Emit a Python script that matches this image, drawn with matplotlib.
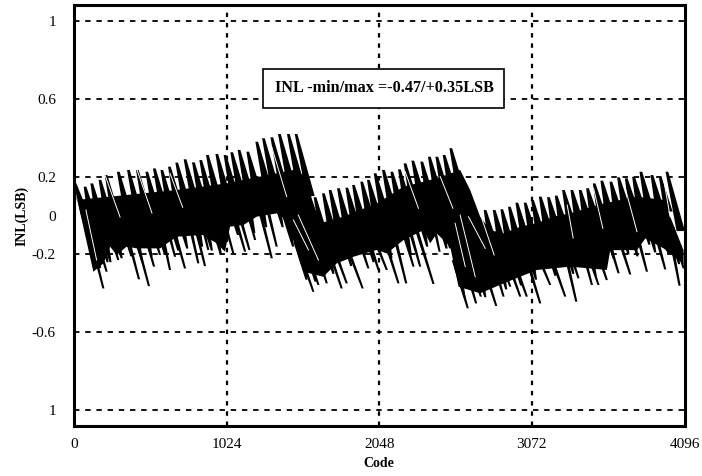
import matplotlib
matplotlib.use('Agg')
import matplotlib.pyplot as plt
from matplotlib.patches import Rectangle

# INL trace: the solid black band (upper and lower edge)
band_top_code = [7, 18, 242, 465, 689, 1024, 1248, 1472, 1561, 1595, 1651, 1807, 2031, 2211, 2434, 2591,
                 2658, 2725, 2792, 2882, 2994, 3106, 3217, 3329, 3553, 3777, 3956, 4090]
band_top = [.165, .080, .097, .114, .131, .165, .200, .234, .200, .088, -.040, -.006, .062, .148, .191, .234,
            .131, -.006, -.075, -.092, -.058, -.040, -.006, .011, .062, .097, .080, -.180]
band_low_code = [7, 130, 197, 242, 286, 353, 421, 577, 689, 868, 957, 1013, 1047, 1136, 1226, 1360, 1427,
                 1539, 1673, 1763, 1875, 2031, 2099, 2211, 2345, 2390, 2434, 2524, 2580, 2725, 2882, 3106,
                 3329, 3575, 3598, 3777, 3833, 3956, 4090]
band_low = [.131, -.289, -.246, -.160, -.203, -.160, -.169, -.169, -.109, -.100, -.143, -.186, -.057,
            -.049, -.006, .011, -.023, -.289, -.315, -.246, -.212, -.177, -.195, -.126, -.075, -.143, -.092,
            -.160, -.366, -.400, -.349, -.280, -.263, -.280, -.178, -.178, -.118, -.169, -.250]

# teeth sticking out above the band
tooth_code = [7, 74, 119, 174, 215, 297, 365, 425, 488, 539, 589, 640, 689, 745, 801, 850, 895, 958, 1013, 1058,
              1107, 1166, 1226, 1271, 1327, 1378, 1438, 1490,
              1617, 1673, 1718, 1774, 1830, 1875, 1930, 1975, 2020, 2076, 2132, 2183, 2221, 2273, 2333, 2384,
              2434, 2483, 2528,
              2758, 2819, 2870, 2921, 2971, 3027, 3076, 3128, 3183, 3235, 3284, 3340, 3396, 3445, 3490, 3541,
              3602, 3653, 3705, 3754, 3803, 3877, 3933, 3978]
tooth_top = [.165, .148, .165, .183, .208, .225, .234, .234, .225, .242, .234, .251, .272, .289, .273, .285, .311,
             .316, .311, .325, .337, .328, .379, .397, .402, .419, .419, .419,
             .094, .114, .131, .140, .143, .157, .174, .183, .217, .234, .225, .237, .268, .282, .277, .302,
             .302, .311, .346,
             .028, .028, .032, .045, .066, .066, .080, .097, .094, .102, .131, .131, .131, .140, .165, .179,
             .174, .196, .191, .199, .225, .208, .199, .225]
tooth_end_code = [75, 119, 169, 230, 278, 366, 436, 490, 551, 604, 651, 701, 757, 815, 863, 913, 962, 1024, 1074,
                  1121, 1170, 1223, 1296, 1343, 1398, 1451, 1511, 1587,
                  1676, 1732, 1776, 1832, 1883, 1926, 1983, 2025, 2077, 2135, 2185, 2237, 2278, 2329, 2384, 2440,
                  2486, 2535, 2591,
                  2803, 2867, 2919, 2971, 3022, 3075, 3122, 3173, 3224, 3275, 3330, 3383, 3436, 3485, 3534, 3586,
                  3643, 3698, 3745, 3796, 3856, 3925, 3988, 4071]
tooth_end = [0, 0, 0, 0, 0, 0, 0, .02, .02, .03, .03, .05, .05, .06, .07, .08, .09, .10, .11, .12, .13, .14, .15,
             .16, .17, .18, .18, .10,
             -.10, -.08, -.06, -.05, -.03, -.01, 0, .02, .03, .04, .05, .06, .08, .10, .11, .12, .13, .14, .14,
             -.12, -.13, -.13, -.12, -.10, -.09, -.07, -.05, -.04, -.03, -.02, -.01, 0, .01, .02, .03, .04, .05,
             .06, .06, .05, .05, .02, -.08]

# long spikes sticking out below the band
spike_code = [107, 174, 264, 353, 409, 492, 544, 588, 644, 678, 790, 823, 868, 1002, 1092, 1125, 1181, 1259, 1315,
              1517, 1584, 1651, 1718, 1763, 1830, 1930, 1998, 2032, 2099, 2166, 2222, 2278, 2323, 2423, 2479,
              2591, 2658, 2692, 2781, 2848, 2882, 2938, 2982, 3061, 3128, 3217, 3307, 3340, 3419, 3441, 3530,
              3598, 3676, 3799, 3933, 4023, 4056]
spike_start = [-.109, -.195, -.160, -.100, -.109, -.160, -.143, -.066, -.126, -.109, -.092, -.092, -.075, -.023,
               -.057, -.057, -.040, -.023, -.023, -.229, -.263, -.263, -.229, -.246, -.195, -.195, -.195, -.195,
               -.186, -.160, -.143, -.160, -.160, -.075, -.092, -.366, -.366, -.366, -.366, -.349, -.298, -.332,
               -.332, -.306, -.280, -.280, -.229, -.246, -.212, -.212, -.263, -.178, -.195, -.169, -.195, -.178,
               -.195]
spike_end_code = [197, 219, 297, 436, 503, 537, 577, 644, 678, 745, 834, 879, 901, 1069, 1148, 1177, 1215, 1327,
                  1360, 1606, 1640, 1696, 1796, 1830, 1937, 1975, 2043, 2099, 2177, 2229, 2278, 2323, 2412, 2453,
                  2524, 2642, 2698, 2730, 2833, 2882, 2927, 2994, 3038, 3128, 3195, 3296, 3370, 3385, 3475, 3519,
                  3575, 3654, 3732, 3844, 3967, 4063, 4090]
spike_end = [-.375, -.289, -.229, -.328, -.363, -.263, -.203, -.280, -.212, -.272, -.246, -.260, -.177, -.195,
             -.186, -.177, -.126, -.220, -.160, -.392, -.357, -.349, -.375, -.349, -.375, -.272, -.280, -.280,
             -.349, -.349, -.263, -.263, -.352, -.186, -.169, -.477, -.452, -.417, -.465, -.417, -.366, -.417,
             -.417, -.452, -.357, -.417, -.443, -.323, -.357, -.357, -.332, -.297, -.303, -.289, -.277, -.361,
             -.272]

# short jags along the lower edge of the band
jag_code = [175, 225, 245, 320, 385, 455, 520, 610, 700, 760, 860, 925, 985, 1100, 1210, 1290, 1400, 1470,
            1560, 1620, 1740, 1860, 2010, 2130, 2260, 2370, 2500, 2620, 2760, 2900, 3000, 3100, 3230, 3350, 3500,
            3620, 3720, 3780, 3860, 3900, 3990, 4060]
jag_low = [-.27, -.24, -.24, -.22, -.21, -.23, -.21, -.20, -.18, -.17, -.16, -.18, -.20, -.10, -.09,
           -.06, -.06, -.16, -.33, -.34, -.30, -.26, -.24, -.22, -.20, -.16, -.17, -.42, -.42, -.38, -.36, -.33,
           -.31, -.30, -.31, -.22, -.20, -.21, -.15, -.19, -.20, -.25]

# thin white gaps left inside the band
gap_code = [80, 208, 423, 644, 1326, 1472, 1505, 2222, 2457, 2557, 2591, 2647, 2736, 3309, 3486, 3687, 3953]
gap_start = [.028, .208, .234, .217, .354, -.023, .002, .225, .200, -.040, .002, -.006, -.015, .054, .140, .174, .200]
gap_end_code = [152, 309, 523, 729, 1427, 1573, 1640, 2311, 2542, 2625, 2692, 2759, 2819, 3349, 3548, 3777, 4000]
gap_end = [-.229, -.008, .013, .042, .097, -.177, -.229, .037, .037, -.263, -.315, -.169, -.203, -.116, -.066,
           -.083, -.008]

x_ticks = [0, 1024, 2048, 3072, 4096]
y_ticks = [1, 0.6, 0.2, 0, -0.2, -0.6, -1]
y_labels = ['1', '0.6', '0.2', '0', '-0.2', '-0.6', '1']
y_grid = [1, 0.6, 0.2, -0.2, -0.6, -1]

# wedge sizes in codes / LSB
TOOTH_TIP = 9
TOOTH_BASE = 28
SPIKE_TIP = 7
SPIKE_BASE = 12
ROOT_RUN = 30      # spikes start this far back inside the band
ROOT_DROP = 0.10
JAG_RUN = 58
JAG_DROP = 0.19

plt.rcParams['font.family'] = ['Liberation Serif', 'DejaVu Serif']

W, H = 702, 476
fig = plt.figure(figsize=(W / 100, H / 100), dpi=100)
ax = fig.add_axes([74 / W, 1 - 426 / H, 610.5 / W, 421 / H])
ax.set_xlim(0, 4096)
ax.set_ylim(-1.082, 1.082)

for y in y_grid:
    ax.axhline(y, color='black', lw=1.3, ls=(0, (3, 3.2)), zorder=1)
for x in x_ticks[1:-1]:
    ax.axvline(x, color='black', lw=1.6, ls=(0, (2, 2.6)), zorder=1)

ax.fill(band_top_code + band_low_code[::-1], band_top + band_low[::-1], color='black', lw=0, zorder=2)

# each tooth is a thin wedge: narrow at the outer tip, wide where it meets the band
for i in range(len(tooth_code)):
    ax.fill([tooth_code[i] - TOOTH_TIP, tooth_code[i] + TOOTH_TIP,
             tooth_end_code[i] + TOOTH_BASE, tooth_end_code[i] - TOOTH_BASE],
            [tooth_top[i], tooth_top[i], tooth_end[i], tooth_end[i]], color='black', lw=0, zorder=3)
for i in range(len(spike_code)):
    ax.fill([spike_code[i] - ROOT_RUN - SPIKE_BASE, spike_code[i] - ROOT_RUN + SPIKE_BASE,
             spike_end_code[i] + SPIKE_TIP, spike_end_code[i] - SPIKE_TIP],
            [spike_start[i] + ROOT_DROP, spike_start[i] + ROOT_DROP, spike_end[i], spike_end[i]],
            color='black', lw=0, zorder=3)
for i in range(len(jag_code)):
    ax.fill([jag_code[i] - JAG_RUN - TOOTH_BASE, jag_code[i] - JAG_RUN + TOOTH_BASE,
             jag_code[i] + SPIKE_TIP, jag_code[i] - SPIKE_TIP],
            [jag_low[i] + JAG_DROP, jag_low[i] + JAG_DROP, jag_low[i], jag_low[i]],
            color='black', lw=0, zorder=3)
for i in range(len(gap_code)):
    ax.plot([gap_code[i], gap_end_code[i]], [gap_start[i], gap_end[i]], color='white', lw=0.7, zorder=4)

# annotation box sits on top of the grid
ax.add_patch(Rectangle((1268, 0.555), 1620, 0.2, facecolor='white', edgecolor='black', lw=1.2, zorder=5))
ax.text(2082, 0.655, 'INL -min/max =-0.47/+0.35LSB', ha='center', va='center', fontsize=11.7,
        fontweight='bold', zorder=6)

ax.set_xticks(x_ticks)
ax.set_yticks(y_ticks)
ax.set_yticklabels(y_labels)
ax.tick_params(length=0, labelsize=11, pad=13, axis='y')
ax.tick_params(length=0, labelsize=11, pad=9, axis='x')
ax.set_xlabel('Code', fontsize=10, fontweight='bold', labelpad=4)
ax.set_ylabel('INL(LSB)', fontsize=10, fontweight='bold', labelpad=2)

for spine in ax.spines.values():
    spine.set_linewidth(2.2)
    spine.set_zorder(7)

fig.savefig('out.png', dpi=100)
